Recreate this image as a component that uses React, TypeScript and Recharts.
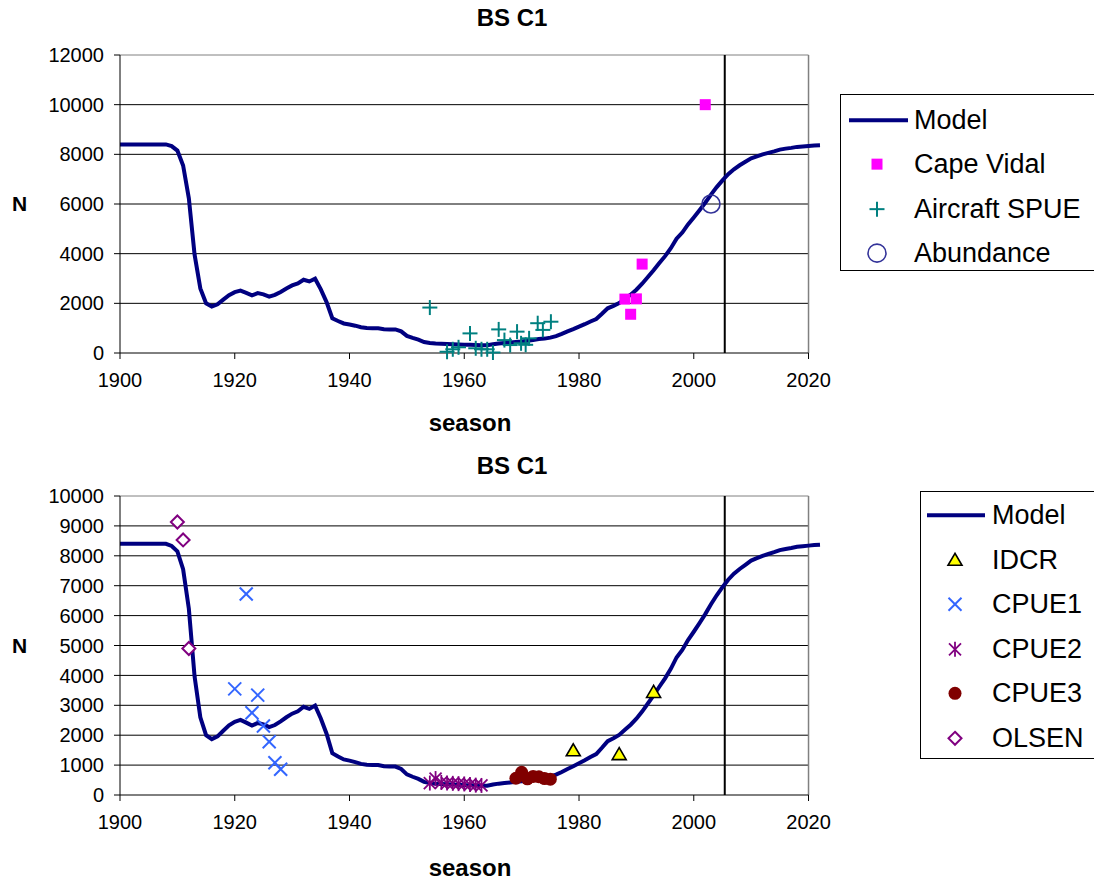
import React from 'react';
import { ComposedChart, Line, Scatter, XAxis, YAxis, ReferenceLine } from 'recharts';

const FONT = '"Liberation Sans", Arial, sans-serif';

// model trajectory (same run in both panels)
const modelYears = [
  1900, 1908, 1909, 1910, 1911, 1912, 1913, 1914, 1915, 1916, 1917, 1918, 1919, 1920,
  1921, 1922, 1923, 1924, 1925, 1926, 1927, 1928, 1929, 1930, 1931, 1932, 1933, 1934,
  1935, 1936, 1937, 1938, 1939, 1940, 1941, 1942, 1943, 1944, 1945, 1946, 1947, 1948,
  1949, 1950, 1951, 1952, 1953, 1954, 1955, 1956, 1957, 1958, 1959, 1960, 1961, 1962,
  1963, 1964, 1965, 1966, 1967, 1968, 1969, 1970, 1971, 1972, 1973, 1974, 1975, 1976,
  1977, 1978, 1979, 1980, 1981, 1982, 1983, 1984, 1985, 1986, 1987, 1988, 1989, 1990,
  1991, 1992, 1993, 1994, 1995, 1996, 1997, 1998, 1999, 2000, 2001, 2002, 2003, 2004,
  2005, 2006, 2007, 2008, 2009, 2010, 2011, 2012, 2013, 2014, 2015, 2016, 2017, 2018,
  2019, 2020, 2021, 2022,
];
const modelN = [
  8400, 8400, 8330, 8150, 7550, 6230, 3960, 2600, 2000, 1870, 1960, 2150, 2330, 2450,
  2510, 2420, 2320, 2410, 2360, 2270, 2340, 2460, 2600, 2720, 2800, 2950, 2880, 2990,
  2560, 2050, 1400, 1290, 1190, 1150, 1100, 1040, 1010, 1000, 1000, 960, 950, 950,
  870, 690, 610, 540, 440, 400, 380, 370, 360, 350, 340, 330, 330, 320,
  310, 310, 350, 380, 400, 420, 440, 460, 490, 520, 560, 580, 620, 680,
  770, 870, 960, 1060, 1160, 1270, 1370, 1580, 1800, 1900, 2010, 2180, 2350, 2550,
  2790, 3060, 3330, 3620, 3900, 4220, 4600, 4850, 5180, 5460, 5750, 6050, 6380, 6680,
  6950, 7200, 7400, 7560, 7700, 7840, 7920, 8000, 8060, 8120, 8190, 8230, 8260, 8300,
  8320, 8340, 8360, 8370,
];

// top panel observations
const capeVidalYears = [1988, 1989, 1990, 1991, 2002];
const capeVidalN = [2170, 1560, 2180, 3580, 10000];

const aircraftYears = [
  1954, 1957, 1958, 1959, 1961, 1962, 1963, 1964, 1965, 1966, 1967, 1968, 1969.2, 1969.9,
  1970.7, 1971.3, 1972.8, 1973.7, 1975.1,
];
const aircraftN = [
  1830, 50, 150, 230, 790, 190, 150, 150, 20, 950, 520, 320, 860, 390,
  330, 590, 1200, 930, 1260,
];

const abundanceYears = [2003];
const abundanceN = [6000];

// bottom panel observations
const idcrYears = [1979, 1987, 1993];
const idcrN = [1480, 1350, 3430];

const cpue1Years = [1920, 1922, 1923, 1924, 1925, 1926, 1927, 1928];
const cpue1N = [3550, 6720, 2750, 3340, 2310, 1780, 1080, 860];

const cpue2Years = [1954, 1955, 1956, 1957, 1958, 1959, 1960, 1961, 1962, 1963];
const cpue2N = [400, 550, 420, 400, 390, 380, 370, 350, 330, 320];

const cpue3Years = [1969, 1970, 1971, 1972, 1973, 1974, 1975];
const cpue3N = [560, 760, 540, 620, 610, 550, 530];

const olsenYears = [1910, 1911, 1912];
const olsenN = [9130, 8530, 4900];

const xTicks = [1900, 1920, 1940, 1960, 1980, 2000, 2020];
const topYTicks = [0, 2000, 4000, 6000, 8000, 10000, 12000];
const bottomYTicks = [0, 1000, 2000, 3000, 4000, 5000, 6000, 7000, 8000, 9000, 10000];
const projectionYear = 2005.4;
const lastSeason = 2020;

const zip = (years: number[], n: number[]) => years.map((year, i) => ({ year, n: n[i] }));

const modelData = zip(modelYears, modelN);

// ---- marker shapes ----
const Square = ({ cx, cy }: any) => <rect x={cx - 5.5} y={cy - 5.5} width={11} height={11} fill="#FF00FF" />;
const Plus = ({ cx, cy }: any) => (
  <g stroke="#008080" strokeWidth={2}>
    <line x1={cx - 7.5} y1={cy} x2={cx + 7.5} y2={cy} />
    <line x1={cx} y1={cy - 7.5} x2={cx} y2={cy + 7.5} />
  </g>
);
const Ring = ({ cx, cy }: any) => <circle cx={cx} cy={cy} r={9} fill="none" stroke="#333399" strokeWidth={1.6} />;
const Triangle = ({ cx, cy }: any) => (
  <polygon points={`${cx},${cy - 7} ${cx - 7},${cy + 5} ${cx + 7},${cy + 5}`} fill="#FFFF00" stroke="#000" strokeWidth={1.6} />
);
const Cross = ({ cx, cy }: any) => (
  <g stroke="#3366FF" strokeWidth={2}>
    <line x1={cx - 6.5} y1={cy - 6.5} x2={cx + 6.5} y2={cy + 6.5} />
    <line x1={cx - 6.5} y1={cy + 6.5} x2={cx + 6.5} y2={cy - 6.5} />
  </g>
);
const Star = ({ cx, cy }: any) => (
  <g stroke="#800080" strokeWidth={1.8}>
    <line x1={cx - 6} y1={cy - 6} x2={cx + 6} y2={cy + 6} />
    <line x1={cx - 6} y1={cy + 6} x2={cx + 6} y2={cy - 6} />
    <line x1={cx} y1={cy - 7.5} x2={cx} y2={cy + 7.5} />
  </g>
);
const Dot = ({ cx, cy }: any) => <circle cx={cx} cy={cy} r={6.5} fill="#800000" />;
const Diamond = ({ cx, cy }: any) => (
  <polygon points={`${cx},${cy - 6.5} ${cx + 6.5},${cy} ${cx},${cy + 6.5} ${cx - 6.5},${cy}`} fill="#fff" stroke="#800080" strokeWidth={2} />
);

const tickStyle = { fill: '#000', fontSize: 20, fontFamily: FONT };
const axisTitle = { fill: '#000', fontSize: 24, fontWeight: 'bold', fontFamily: FONT };

const Title = ({ top }: { top: number }) => (
  <div
    style={{
      position: 'absolute', left: 0, top, width: 1024, textAlign: 'center',
      fontFamily: FONT, fontWeight: 'bold', fontSize: 24, lineHeight: '24px',
    }}
  >
    BS C1
  </div>
);

type LegendItem = { label: string; Icon?: React.FC<any> };

const LegendBox = ({ left, top, height, rowH, padTop, lineFrom, lineTo, markX, textX, items }: any) => (
  <div
    style={{
      position: 'absolute', left, top, width: 300, height, border: '1px solid #000',
      background: '#fff', boxSizing: 'border-box', paddingTop: padTop,
    }}
  >
    {items.map((it: LegendItem) => (
      <div key={it.label} style={{ position: 'relative', height: rowH }}>
        <svg width={textX} height={rowH} style={{ position: 'absolute', left: 0, top: 0 }}>
          {it.Icon ? (
            <it.Icon cx={markX} cy={rowH / 2} />
          ) : (
            <line x1={lineFrom} y1={rowH / 2} x2={lineTo} y2={rowH / 2} stroke="#000080" strokeWidth={4} />
          )}
        </svg>
        <span
          style={{
            position: 'absolute', left: textX, top: 0, lineHeight: `${rowH}px`,
            fontFamily: FONT, fontSize: 27, whiteSpace: 'nowrap', color: '#000',
          }}
        >
          {it.label}
        </span>
      </div>
    ))}
  </div>
);

function panelFrame(yTicks: number[], yMax: number) {
  return [
    ...yTicks.filter((v) => v > 0).map((v) => (
      <ReferenceLine
        key={`g${v}`}
        segment={[{ x: 1900, y: v }, { x: lastSeason, y: v }]}
        stroke={v === yMax ? '#808080' : '#000'}
        strokeWidth={1}
      />
    )),
    <ReferenceLine key="right" x={lastSeason} stroke="#808080" strokeWidth={1.5} />,
    <ReferenceLine key="axis" segment={[{ x: 1900, y: 0 }, { x: lastSeason, y: 0 }]} stroke="#000" strokeWidth={1} />,
    <ReferenceLine key="proj" x={projectionYear} stroke="#000" strokeWidth={2} />,
  ];
}

function xAxis(offset: number) {
  return (
    <XAxis
      type="number"
      dataKey="year"
      domain={[1900, 2022]}
      ticks={xTicks}
      interval={0}
      tick={tickStyle}
      tickSize={6}
      tickMargin={14}
      axisLine={false}
      tickLine={{ stroke: '#000' }}
      height={60}
      label={{ value: 'season', position: 'bottom', offset, ...axisTitle }}
    />
  );
}

function yAxis(yTicks: number[], yMax: number) {
  return (
    <YAxis
      type="number"
      domain={[0, yMax]}
      ticks={yTicks}
      interval={0}
      width={120}
      tick={tickStyle}
      tickSize={6}
      tickMargin={10}
      axisLine={{ stroke: '#000' }}
      tickLine={{ stroke: '#000' }}
      label={{ value: 'N', position: 'insideLeft', offset: 12, ...axisTitle, fontSize: 21 }}
    />
  );
}

export default function App() {
  return (
    <div style={{ position: 'relative', width: 1094, height: 882, overflow: 'hidden', background: '#fff' }}>
      <style>{'body{margin:0}'}</style>

      <Title top={6} />
      <div style={{ position: 'absolute', left: 0, top: 0 }}>
        <ComposedChart width={838} height={450} margin={{ top: 55, right: 18, left: 0, bottom: 37 }}>
          {xAxis(1)}
          {yAxis(topYTicks, 12000)}
          {panelFrame(topYTicks, 12000)}
          <Line data={modelData} dataKey="n" type="linear" stroke="#000080" strokeWidth={4} dot={false} isAnimationActive={false} />
          <Scatter data={zip(capeVidalYears, capeVidalN)} dataKey="n" shape={Square} isAnimationActive={false} />
          <Scatter data={zip(aircraftYears, aircraftN)} dataKey="n" shape={Plus} isAnimationActive={false} />
          <Scatter data={zip(abundanceYears, abundanceN)} dataKey="n" shape={Ring} isAnimationActive={false} />
        </ComposedChart>
      </div>
      <LegendBox
        left={840} top={94} height={177} rowH={44.3} padTop={3}
        lineFrom={8} lineTo={67} markX={36} textX={73}
        items={[
          { label: 'Model' },
          { label: 'Cape Vidal', Icon: Square },
          { label: 'Aircraft SPUE', Icon: Plus },
          { label: 'Abundance', Icon: Ring },
        ]}
      />

      <Title top={454} />
      <div style={{ position: 'absolute', left: 0, top: 440 }}>
        <ComposedChart width={838} height={442} margin={{ top: 56, right: 18, left: 0, bottom: 27 }}>
          {xAxis(4)}
          {yAxis(bottomYTicks, 10000)}
          {panelFrame(bottomYTicks, 10000)}
          <Line data={modelData} dataKey="n" type="linear" stroke="#000080" strokeWidth={4} dot={false} isAnimationActive={false} />
          <Scatter data={zip(idcrYears, idcrN)} dataKey="n" shape={Triangle} isAnimationActive={false} />
          <Scatter data={zip(cpue1Years, cpue1N)} dataKey="n" shape={Cross} isAnimationActive={false} />
          <Scatter data={zip(cpue2Years, cpue2N)} dataKey="n" shape={Star} isAnimationActive={false} />
          <Scatter data={zip(cpue3Years, cpue3N)} dataKey="n" shape={Dot} isAnimationActive={false} />
          <Scatter data={zip(olsenYears, olsenN)} dataKey="n" shape={Diamond} isAnimationActive={false} />
        </ComposedChart>
      </div>
      <LegendBox
        left={920} top={491} height={268} rowH={44.6} padTop={1}
        lineFrom={6} lineTo={64} markX={34} textX={71}
        items={[
          { label: 'Model' },
          { label: 'IDCR', Icon: Triangle },
          { label: 'CPUE1', Icon: Cross },
          { label: 'CPUE2', Icon: Star },
          { label: 'CPUE3', Icon: Dot },
          { label: 'OLSEN', Icon: Diamond },
        ]}
      />
    </div>
  );
}
